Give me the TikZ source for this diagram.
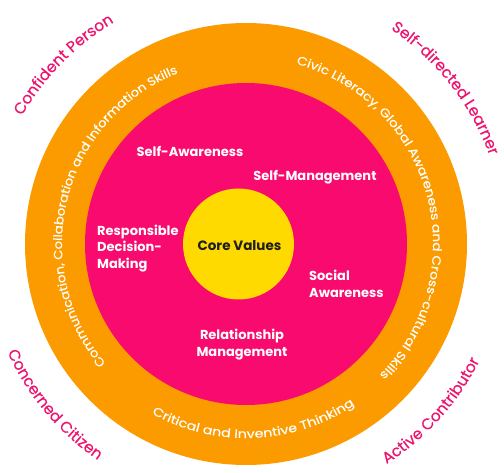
\documentclass[tikz,border=0pt]{standalone}
\usepackage{fontspec}
\setmainfont{Poppins}
\newfontfamily\ringfamA[FakeStretch=1.10,FakeBold=0.3]{Poppins}
\newfontfamily\ringfamB[FakeStretch=1.14,FakeBold=0.3]{Poppins}
\newfontfamily\ringfamC[FakeStretch=1.19,FakeBold=0.3]{Poppins}
\newfontfamily\outerfam[FakeBold=0.4]{Poppins}
\usetikzlibrary{decorations.text}
\definecolor{ringorange}{RGB}{251,155,0}
\definecolor{corepink}{RGB}{248,10,110}
\definecolor{coreyellow}{RGB}{255,218,0}
\definecolor{labelpink}{RGB}{236,20,110}
\definecolor{coretext}{RGB}{30,30,30}
\newcommand{\ringA}{\ringfamA\fontsize{12}{14}\selectfont}
\newcommand{\ringB}{\ringfamB\fontsize{12}{14}\selectfont}
\newcommand{\ringC}{\ringfamC\fontsize{12}{14}\selectfont}
\newcommand{\outerfnt}{\outerfam\fontsize{15.5}{18}\selectfont}
\tikzset{
  disc/.style={circle, inner sep=0pt, draw=none},
  inlabel/.style={text=white, font=\bfseries\fontsize{13}{16.5}\selectfont, inner sep=0pt},
  ringtext/.style={decorate, decoration={text along path, text align=center, text color=white}},
  outertext/.style={decorate, decoration={text along path, text align=center, text color=labelpink}}
}
\begin{document}
\begin{tikzpicture}[x=1pt,y=1pt]
\useasboundingbox (0,0) rectangle (504,472);
\coordinate (C) at (246,228);
\node[disc, fill=ringorange, minimum size=442pt] (outer) at (C) {};
\node[disc, fill=corepink, minimum size=322pt] (mid) at (C) {};
\node[disc, fill=coreyellow, minimum size=111pt] (core) at (238.5,228) {};
\node[text=coretext, font=\bfseries\fontsize{13.5}{16}\selectfont, inner sep=0pt] (cv) at (239.5,226) {Core Values};
\node[inlabel] (sa) at (190,321) {Self-Awareness};
\node[inlabel] (sm) at (315,295) {Self-Management};
\node[inlabel, anchor=west, align=left] (rdm) at (97,223.5) {Responsible\\Decision-\\Making};
\node[inlabel, anchor=west, align=left] (soc) at (309,188) {Social\\Awareness};
\node[inlabel, align=center] (rm) at (242,127.5) {Relationship\\Management};
% ring texts
\path[ringtext, decoration={text={|\ringA|Communication, Collaboration and Information Skills}}]
  ([shift={(236:184)}]C) arc[start angle=236, end angle=96, radius=184];
\path[ringtext, decoration={text={|\ringB|Civic Literacy, Global Awareness and Cross-cultural Skills}}]
  ([shift={(85:187)}]C) arc[start angle=85, end angle=-55, radius=187];
\path[ringtext, decoration={text={|\ringC|Critical and Inventive Thinking}}]
  ([shift={(202.5:194)}]C) arc[start angle=202.5, end angle=342.5, radius=194];
% outer labels
\path[outertext, decoration={text={|\outerfnt|Confident Person}}]
  ([shift={(175:258)}]C) arc[start angle=175, end angle=96, radius=258];
\path[outertext, decoration={text={|\outerfnt|Self-directed Learner}}]
  ([shift={(78:259)}]C) arc[start angle=78, end angle=-2, radius=259];
\path[outertext, decoration={text={|\outerfnt|Concerned Citizen}}]
  ([shift={(180:262)}]C) arc[start angle=180, end angle=260, radius=262];
\path[outertext, decoration={text={|\outerfnt|Active Contributor}}]
  ([shift={(278:261)}]C) arc[start angle=278, end angle=358, radius=261];
\end{tikzpicture}
\end{document}
